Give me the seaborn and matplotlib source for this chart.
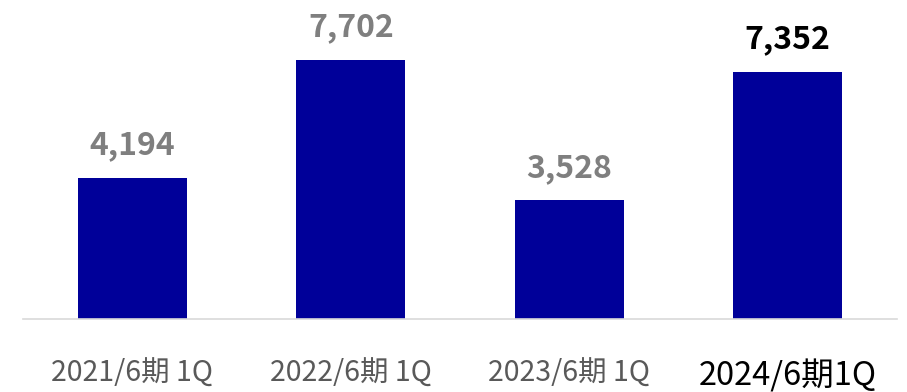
import matplotlib
matplotlib.use("Agg")
import matplotlib.pyplot as plt
import seaborn as sns
import pandas as pd

categories = ["2021/6期 1Q", "2022/6期 1Q", "2023/6期 1Q", "2024/6期1Q"]
values = [4194, 7702, 3528, 7352]
value_labels = ["4,194", "7,702", "3,528", "7,352"]

sns.set_theme(style="white")
plt.rcParams["font.family"] = ["Noto Sans CJK JP", "DejaVu Sans"]

df = pd.DataFrame({"period": categories, "value": values})

fig = plt.figure(figsize=(9.07, 3.92), dpi=100)
ax = fig.add_axes([23 / 907, (392 - 319) / 392, (897 - 23) / 907, 319 / 392])

sns.barplot(data=df, x="period", y="value", color="#000099", saturation=1,
            width=0.5, ax=ax, edgecolor="none")

ax.set_xlim(-0.5, 3.5)
ax.set_ylim(0, 9480)
ax.set_xlabel("")
ax.set_ylabel("")
ax.set_yticks([])
for s in ["left", "right", "top"]:
    ax.spines[s].set_visible(False)
ax.spines["bottom"].set_color("#d9d9d9")
ax.spines["bottom"].set_linewidth(1.2)
ax.tick_params(axis="x", length=0, pad=29)

n = len(categories)
for i, lab in enumerate(ax.get_xticklabels()):
    if i == n - 1:
        lab.set_color("#000000")
        lab.set_fontsize(23.5)
    else:
        lab.set_color("#595959")
        lab.set_fontsize(20.5)

for i, (v, t) in enumerate(zip(values, value_labels)):
    last = i == n - 1
    ax.annotate(t, xy=(i, v), xytext=(0, 17), textcoords="offset points",
                ha="center", va="baseline", fontsize=23, fontweight="bold",
                color="#000000" if last else "#7f7f7f")

fig.savefig("out.png", dpi=100)
